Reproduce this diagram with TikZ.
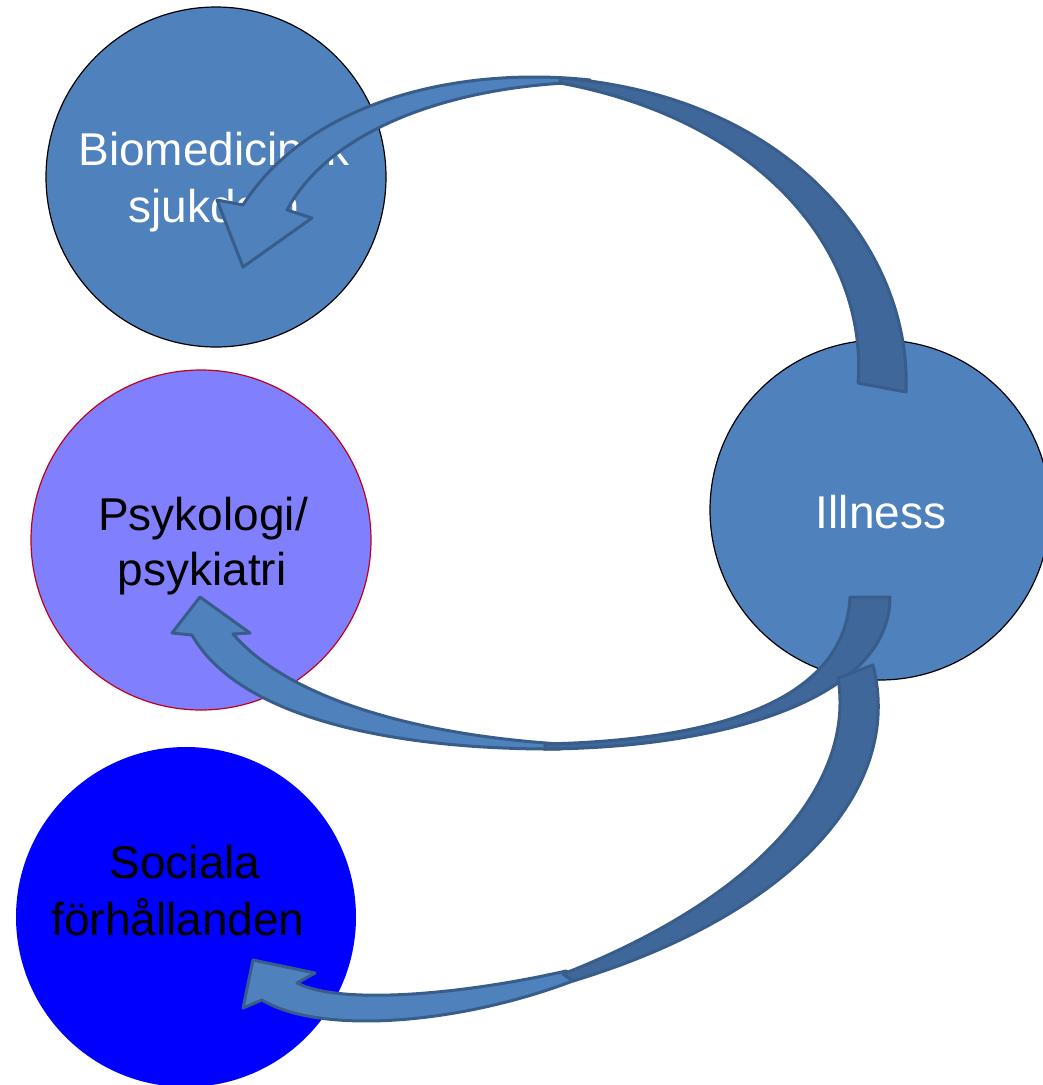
\documentclass[tikz,border=0pt]{standalone}
\usepackage{fontspec}
\setmainfont{Liberation Sans}
\definecolor{office}{HTML}{4F81BD}
\definecolor{backface}{HTML}{3F6799}
\definecolor{edgeblue}{HTML}{385D8A}
\definecolor{psych}{HTML}{8080FF}
\definecolor{psychedge}{HTML}{C0001A}
\begin{document}
\begin{tikzpicture}[x=1pt,y=-1pt,
  ball/.style={circle,minimum size=340pt,inner sep=0pt,line width=1.2pt},
  lbl/.style={anchor=base,inner sep=0pt,font=\fontsize{46}{55}\selectfont},
  frontface/.style={fill=office,draw=edgeblue,line width=3pt,line join=round},
  backpart/.style={fill=backface,draw=edgeblue,line width=3pt,line join=round}]
\useasboundingbox (0,0) rectangle (1043,1085);
% circles
\node[ball,fill=office,draw=black] (bio) at (216,177) {};
\node[ball,fill=psych,draw=psychedge] (psy) at (201,540) {};
\node[ball,fill=office,draw=black] (ill) at (880,510) {};
\node[ball,fill=blue] (soc) at (186,917) {};
% labels
\node[lbl,white] (bio1) at (214,165) {Biomedicinsk};
\node[lbl,white] (bio2) at (214,222) {sjukdom};
\node[lbl] (psy1) at (203,530) {Psykologi/};
\node[lbl] (psy2) at (202,585) {psykiatri};
\node[lbl,white] (ill1) at (881,528) {Illness};
\node[lbl] (soc1) at (185,878) {Sociala};
\node[lbl] (soc2) at (178,935) {förhållanden};
% arrow 1: Illness -> Biomedicinsk
\draw[frontface] (590,80) .. controls (460,66) and (310,100) .. (243,205)
  -- (217,200) -- (243,267) -- (312,218) -- (287,210)
  .. controls (330,130) and (450,85) .. (590,82) -- cycle;
\draw[backpart] (858,383) -- (906,392) .. controls (912,250) and (790,95) .. (560,78)
  -- (560,83) .. controls (760,120) and (868,250) .. (858,383) -- cycle;
% arrow 2: Illness -> Psykologi
\draw[frontface] (560,749) .. controls (400,750) and (240,720) .. (192,635)
  -- (172,633) -- (200,597) -- (250,633) -- (233,634)
  .. controls (290,700) and (420,735) .. (560,744) -- cycle;
\draw[backpart] (850,597) -- (890,597) .. controls (890,700) and (720,748) .. (545,749)
  -- (545,744) .. controls (720,740) and (845,700) .. (850,597) -- cycle;
% arrow 3: Illness -> Sociala
\draw[frontface] (578,979) .. controls (460,1025) and (320,1035) .. (262,1000)
  -- (243,1008) -- (253,960) -- (315,973) -- (297,983)
  .. controls (340,1005) and (460,995) .. (566,971) -- cycle;
\draw[backpart] (838,678) -- (873,665) .. controls (905,790) and (790,915) .. (573,981)
  -- (563,974) .. controls (765,895) and (855,780) .. (838,678) -- cycle;
\end{tikzpicture}
\end{document}
